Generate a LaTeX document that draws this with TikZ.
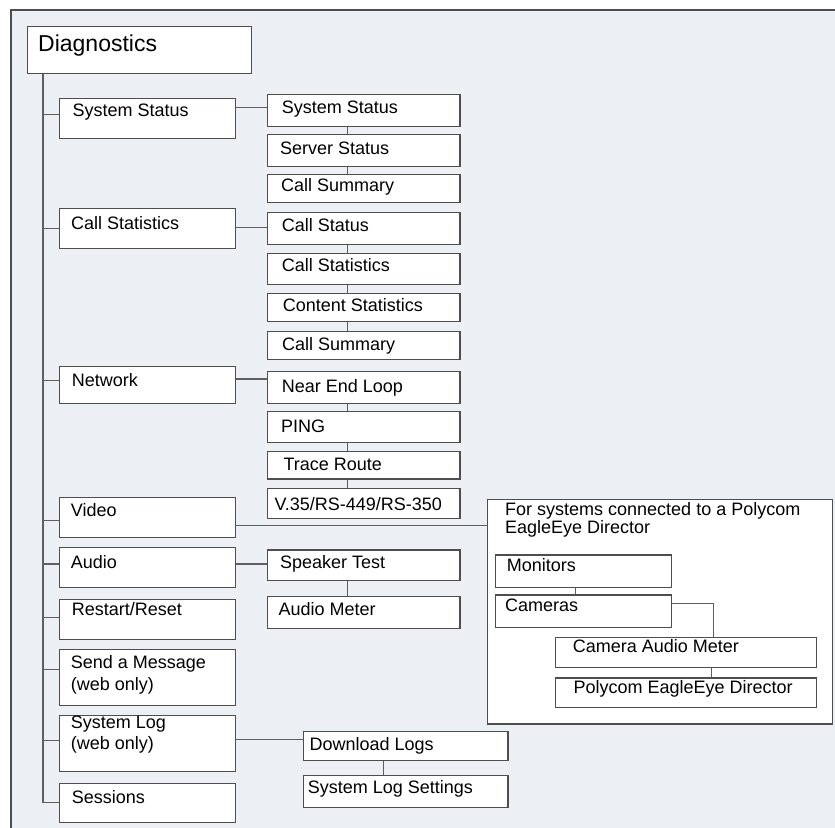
\documentclass[tikz,border=0pt]{standalone}
\usepackage{fontspec}
\setmainfont{Liberation Sans}
\usetikzlibrary{calc}
\definecolor{bgc}{RGB}{236,239,244}
\definecolor{lnc}{RGB}{78,78,78}
\definecolor{cnc}{RGB}{95,95,95}
\newcommand\bx[5]{\node[boxst, minimum width={(#4-#2)*1pt}, minimum height={(#5-#3)*1pt}, anchor=north west] (#1) at (#2,#3) {};}
\begin{document}
\begin{tikzpicture}[x=1pt,y=-1pt,
  boxst/.style={draw=lnc, line width=1.2pt, fill=white, inner sep=0pt, rectangle},
  lbl/.style={inner sep=0pt, anchor=base west, font=\fontsize{18}{20}\selectfont, text=black},
  conn/.style={draw=cnc, line width=1.4pt}]
\useasboundingbox (0,0) rectangle (835,827);
\fill[bgc] (11,10) rectangle (840,830);
\draw[lnc, line width=1.5pt] (11,830) -- (11,10) -- (840,10);

% root
\bx{diag}{27}{26}{251}{73}
\node[lbl, font=\fontsize{23}{26}\selectfont] (diag-t) at (38,51) {Diagnostics};

% level 1
\bx{ss1}{59}{97.7}{235}{137.7}
\node[lbl] (ss1-t) at (72.5,116.7) {System Status};
\bx{cs1}{59}{208}{235}{248}
\node[lbl] (cs1-t) at (71,229.3) {Call Statistics};
\bx{net1}{59}{366}{235}{403}
\node[lbl] (net1-t) at (71.7,386.7) {Network};
\bx{vid1}{59}{497}{235}{537}
\node[lbl] (vid1-t) at (70.7,516.7) {Video};
\bx{aud1}{59}{547}{235}{587}
\node[lbl] (aud1-t) at (70.7,568.3) {Audio};
\bx{rst1}{59}{599}{235}{639}
\node[lbl] (rst1-t) at (71.7,615.7) {Restart/Reset};
\bx{msg1}{59}{649}{235}{705}
\node[lbl] (msg1-t) at (70.7,668.3) {Send a Message};
\node[lbl] (msg1-u) at (70.7,690) {(web only)};
\bx{log1}{59}{715}{235}{771}
\node[lbl] (log1-t) at (70.7,728.3) {System Log};
\node[lbl] (log1-u) at (70.7,749.3) {(web only)};
\bx{ses1}{59}{783}{235}{822}
\node[lbl] (ses1-t) at (71.7,803.3) {Sessions};

% level 2
\bx{ss2}{266.7}{94}{459.3}{125.7}
\node[lbl] (ss2-t) at (281.7,113.3) {System Status};
\bx{srv2}{266.7}{134}{459.3}{166}
\node[lbl] (srv2-t) at (280,154) {Server Status};
\bx{csum2}{266.7}{174}{459.3}{202}
\node[lbl] (csum2-t) at (281,191.7) {Call Summary};
\bx{cst2}{266.7}{212}{459.3}{244}
\node[lbl] (cst2-t) at (281.7,231.7) {Call Status};
\bx{cstat2}{266.7}{252.7}{459.3}{284}
\node[lbl] (cstat2-t) at (281.7,271) {Call Statistics};
\bx{cont2}{266.7}{292.7}{459.3}{320.7}
\node[lbl] (cont2-t) at (282.7,311) {Content Statistics};
\bx{csumb}{266.7}{330.7}{459.3}{359}
\node[lbl] (csumb-t) at (282,350) {Call Summary};
\bx{nel2}{266.7}{371}{459.3}{402.7}
\node[lbl] (nel2-t) at (281.7,392.7) {Near End Loop};
\bx{ping2}{266.7}{410.7}{459.3}{441.7}
\node[lbl] (ping2-t) at (281,432.7) {PING};
\bx{tr2}{266.7}{450.7}{459.3}{478.3}
\node[lbl] (tr2-t) at (283.3,470.7) {Trace Route};
\bx{v35}{266.7}{487.7}{459.3}{517.7}
\node[lbl] (v35-t) at (274.3,510) {V.35/RS-449/RS-350};
\bx{spk}{266.7}{549.3}{459.3}{580}
\node[lbl] (spk-t) at (280,568.3) {Speaker Test};
\bx{aum}{266.7}{595.7}{459.3}{627.7}
\node[lbl] (aum-t) at (278.3,615.7) {Audio Meter};
\bx{dl}{302.7}{731}{507.3}{760}
\node[lbl] (dl-t) at (309.3,750) {Download Logs};
\bx{sls}{302.7}{775}{507.3}{806.7}
\node[lbl] (sls-t) at (307.7,793.3) {System Log Settings};

% EagleEye group
\bx{eag}{486.7}{499}{831.7}{723.3}
\node[lbl] (eag-t) at (505,515) {For systems connected to a Polycom};
\node[lbl] (eag-u) at (505,533.3) {EagleEye Director};
\bx{mon}{495}{554.3}{671}{586.7}
\node[lbl] (mon-t) at (506.7,571.7) {Monitors};
\bx{cam}{495}{594.3}{671}{626.7}
\node[lbl] (cam-t) at (505,611.7) {Cameras};
\bx{camm}{555}{636.7}{815.7}{666.7}
\node[lbl] (camm-t) at (572.7,652.7) {Camera Audio Meter};
\bx{ped}{555}{677.3}{815.7}{706.7}
\node[lbl] (ped-t) at (573.3,693.3) {Polycom EagleEye Director};

% trunk and branches
\coordinate (tk) at ([xshift=16pt]diag.south west);
\draw[conn] (tk) |- ([yshift=0.5pt]ses1.west);
\draw[conn] ([yshift=3.7pt]ss1.west) -- ([yshift=3.7pt]ss1.west -| tk);
\draw[conn] (cs1.west) -- (cs1.west -| tk);
\draw[conn] ([yshift=4.5pt]net1.west) -- ([yshift=4.5pt]net1.west -| tk);
\draw[conn] ([yshift=-3pt]vid1.west) -- ([yshift=-3pt]vid1.west -| tk);
\draw[conn] ([yshift=3.7pt]aud1.west) -- ([yshift=3.7pt]aud1.west -| tk);
\draw[conn] ([yshift=2.3pt]rst1.west) -- ([yshift=2.3pt]rst1.west -| tk);
\draw[conn] ([yshift=8pt]msg1.west) -- ([yshift=8pt]msg1.west -| tk);
\draw[conn] ([yshift=3pt]log1.west) -- ([yshift=3pt]log1.west -| tk);

% level1 -> level2
\draw[conn] ([yshift=3.1pt]ss2.west) -- ([yshift=3.1pt]ss2.west -| ss1.east);
\draw[conn] ([yshift=1pt]cst2.west) -- ([yshift=1pt]cst2.west -| cs1.east);
\draw[conn] ([yshift=8.5pt]nel2.west) -- ([yshift=8.5pt]nel2.west -| net1.east);
\draw[conn] ([yshift=-8pt]vid1.east) -- ([yshift=-8pt]vid1.east -| eag.west);
\draw[conn] ([yshift=1.4pt]spk.west) -- ([yshift=1.4pt]spk.west -| aud1.east);
\draw[conn] ([yshift=6.5pt]dl.west) -- ([yshift=6.5pt]dl.west -| log1.east);

% vertical chains
\foreach \a/\b in {ss2/srv2, srv2/csum2, cst2/cstat2, cstat2/cont2, cont2/csumb, nel2/ping2, ping2/tr2, tr2/v35, spk/aum}
  \draw[conn] ([xshift=-16.3pt]\a.south) -- ([xshift=-16.3pt]\b.north);
\draw[conn] ([xshift=-22.3pt]dl.south) -- ([xshift=-22.3pt]sls.north);
\draw[conn] ([xshift=-8pt]mon.south) -- ([xshift=-8pt]cam.north);
\draw[conn] ([yshift=7.8pt]cam.east) -| ([xshift=27.3pt]camm.north);
\draw[conn] ([xshift=25.7pt]camm.south) -- ([xshift=25.7pt]ped.north);
\end{tikzpicture}
\end{document}
